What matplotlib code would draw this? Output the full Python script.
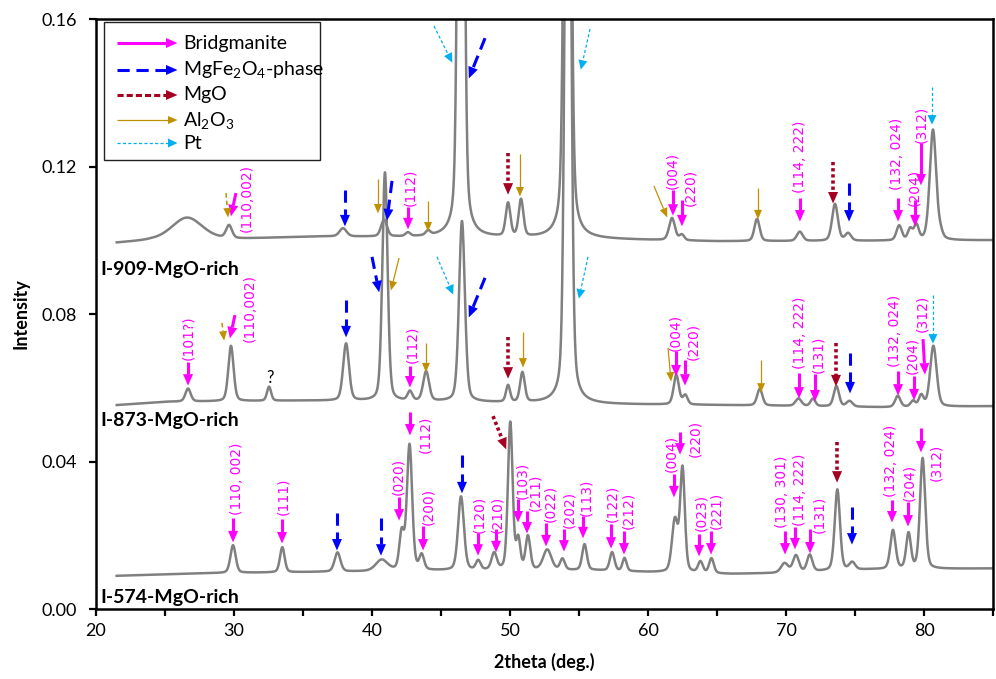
import numpy as np
import matplotlib
matplotlib.use('Agg')
import matplotlib.pyplot as plt
from matplotlib.patches import Polygon, Rectangle
from matplotlib.ticker import MultipleLocator, FormatStrFormatter

plt.rcParams['font.family'] = ['Lato', 'DejaVu Sans']
plt.rcParams['mathtext.default'] = 'regular'

# ---- XRD patterns (2theta in deg.) ----
# background level of each pattern
i909_base_x = [21.5, 24, 30, 36, 45, 56, 65, 75, 85]
i909_base_y = [0.0993, 0.1000, 0.1003, 0.1010, 0.1008, 0.1003, 0.0997, 0.0998, 0.1000]
i873_base_x = [21.5, 25, 35, 45, 57, 65, 72, 77, 85]
i873_base_y = [0.0553, 0.0562, 0.0565, 0.0562, 0.0555, 0.0553, 0.0550, 0.0547, 0.0550]
i574_base_x = [21.5, 28, 35, 45, 56, 60, 66, 69, 76, 85]
i574_base_y = [0.0090, 0.0097, 0.0100, 0.0104, 0.0105, 0.0100, 0.0095, 0.0097, 0.0107, 0.0110]

# peaks: position, height above background, width
i909_pos = [26.6, 29.64, 37.9, 40.87, 42.6, 44.06, 46.45, 49.86, 50.8, 54.17, 61.74,
            62.45, 67.9, 71.0, 73.55, 74.5, 78.2, 79.0, 79.45, 80.65, 81.2]
i909_amp = [0.0060, 0.0035, 0.0022, 0.0045, 0.0010, 0.0012, 0.30, 0.0090, 0.0100, 0.30, 0.0060,
            0.0015, 0.0060, 0.0025, 0.0100, 0.0020, 0.0040, 0.0030, 0.0040, 0.0300, 0.0015]
i909_fwhm = [2.6, 0.5, 0.6, 0.5, 0.4, 0.4, 0.42, 0.4, 0.4, 0.45, 0.5,
             0.4, 0.45, 0.5, 0.5, 0.5, 0.45, 0.4, 0.4, 0.55, 0.4]

i873_pos = [26.67, 29.78, 32.54, 38.12, 40.94, 42.75, 43.92, 46.52, 49.86, 50.9, 54.2,
            62.05, 62.7, 68.1, 70.9, 71.95, 73.65, 74.6, 78.1, 79.2, 79.8, 80.68]
i873_amp = [0.0035, 0.0150, 0.0038, 0.0155, 0.0620, 0.0025, 0.0080, 0.0490, 0.0045, 0.0080, 0.25,
            0.0080, 0.0025, 0.0045, 0.0020, 0.0020, 0.0055, 0.0015, 0.0030, 0.0015, 0.0030, 0.0165]
i873_fwhm = [0.45, 0.45, 0.35, 0.5, 0.45, 0.4, 0.5, 0.5, 0.35, 0.4, 0.45,
             0.45, 0.4, 0.45, 0.5, 0.4, 0.45, 0.5, 0.45, 0.4, 0.4, 0.55]

i574_pos = [29.93, 33.5, 37.5, 40.7, 42.15, 42.72, 43.6, 46.45, 47.7, 48.85, 50.02, 50.6,
            51.3, 52.7, 53.8, 55.4, 57.4, 58.3, 61.95, 62.5, 63.8, 64.6, 69.9, 70.72,
            71.72, 73.72, 74.8, 77.75, 78.88, 79.9]
i574_amp = [0.0075, 0.0068, 0.0052, 0.0030, 0.0100, 0.0340, 0.0040, 0.0200, 0.0025, 0.0045, 0.0400, 0.0080,
            0.0090, 0.0055, 0.0030, 0.0070, 0.0050, 0.0035, 0.0140, 0.0280, 0.0030, 0.0040, 0.0025, 0.0045,
            0.0045, 0.0220, 0.0020, 0.0105, 0.0095, 0.0300]
i574_fwhm = [0.45, 0.4, 0.5, 1.0, 0.4, 0.45, 0.4, 0.5, 0.4, 0.45, 0.4, 0.35,
             0.4, 0.7, 0.4, 0.4, 0.4, 0.35, 0.5, 0.4, 0.4, 0.4, 0.6, 0.5,
             0.45, 0.45, 0.5, 0.45, 0.4, 0.45]

sample_names = ['I-909-MgO-rich', 'I-873-MgO-rich', 'I-574-MgO-rich']

# ---- phase markers: (tail x, tail y, tip x, tip y) ----
bridg_arrows = [
    # I-909
    (30.14, 0.1128, 29.78, 0.1066), (42.61, 0.1090, 42.61, 0.1031), (61.81, 0.1136, 61.81, 0.1068),
    (62.46, 0.1109, 62.46, 0.1039), (71.01, 0.1115, 71.01, 0.1052), (78.12, 0.1115, 78.12, 0.1052),
    (79.35, 0.1109, 79.35, 0.1039), (79.78, 0.1264, 79.78, 0.1150),
    # I-873
    (26.67, 0.0670, 26.67, 0.0607), (30.07, 0.0797, 29.71, 0.0735), (42.75, 0.0659, 42.75, 0.0602),
    (62.03, 0.0700, 62.03, 0.0632), (62.68, 0.0675, 62.68, 0.0607), (70.94, 0.0640, 70.94, 0.0572),
    (72.10, 0.0637, 72.10, 0.0564), (78.12, 0.0645, 78.12, 0.0580), (79.28, 0.0632, 79.28, 0.0567),
    (79.93, 0.0732, 80.07, 0.0637),
    # I-574
    (29.93, 0.0247, 29.93, 0.0182), (33.48, 0.0244, 33.48, 0.0179), (41.96, 0.0304, 41.96, 0.0241),
    (42.75, 0.0534, 42.75, 0.0472), (43.70, 0.0225, 43.70, 0.0160), (47.68, 0.0206, 47.68, 0.0146),
    (48.99, 0.0217, 48.99, 0.0155), (50.58, 0.0298, 50.58, 0.0236), (51.23, 0.0266, 51.23, 0.0206),
    (52.61, 0.0233, 52.61, 0.0171), (53.91, 0.0217, 53.91, 0.0157), (55.29, 0.0252, 55.29, 0.0193),
    (57.32, 0.0231, 57.32, 0.0165), (58.26, 0.0212, 58.26, 0.0149), (61.88, 0.0366, 61.88, 0.0304),
    (62.32, 0.0480, 62.32, 0.0420), (63.70, 0.0203, 63.70, 0.0144), (64.57, 0.0212, 64.57, 0.0149),
    (69.93, 0.0212, 69.93, 0.0149), (70.65, 0.0222, 70.65, 0.0163), (71.74, 0.0217, 71.74, 0.0152),
    (77.68, 0.0296, 77.68, 0.0236), (78.84, 0.0290, 78.84, 0.0225), (79.78, 0.0491, 79.78, 0.0426),
]
bridg_labels = [
    ('(110,002)', 30.94, 0.1022), ('(112)', 42.75, 0.1093), ('(004)', 61.74, 0.1139),
    ('(220)', 63.04, 0.1093), ('(114, 222)', 71.01, 0.1128), ('(132, 024)', 78.04, 0.1136),
    ('(204)', 79.28, 0.1093), ('(312)', 79.78, 0.1264),
    ('(101?)', 26.67, 0.0675), ('(110,002)', 31.16, 0.0724), ('(112)', 42.9, 0.0667),
    ('(004)', 61.96, 0.0700), ('(220)', 63.26, 0.0675), ('(114, 222)', 71.01, 0.0651),
    ('(131)', 72.32, 0.0640), ('(132, 024)', 77.9, 0.0656), ('(204)', 79.13, 0.0637),
    ('(312)', 79.86, 0.0751),
    ('(110, 002)', 30.22, 0.0255), ('(111)', 33.55, 0.0255), ('(020)', 41.88, 0.0309),
    ('(112)', 43.84, 0.0423), ('(200)', 44.06, 0.0228), ('(120)', 47.75, 0.0206),
    ('(210)', 49.06, 0.0206), ('(103)', 50.87, 0.0298), ('(211)', 51.81, 0.0266),
    ('(022)', 52.9, 0.0236), ('(202)', 54.28, 0.0220), ('(113)', 55.51, 0.0252),
    ('(122)', 57.39, 0.0236), ('(212)', 58.55, 0.0217), ('(004)', 61.67, 0.0372),
    ('(220)', 63.41, 0.0412), ('(023)', 63.84, 0.0212), ('(221)', 64.93, 0.0217),
    ('(130, 301)', 69.71, 0.0220), ('(114, 222)', 71.01, 0.0225), ('(131)', 72.39, 0.0206),
    ('(132, 024)', 77.61, 0.0304), ('(204)', 78.91, 0.0293), ('(312)', 80.87, 0.0347),
]
mgfe_arrows = [
    (38.04, 0.1136, 38.04, 0.1039), (41.45, 0.1161, 41.09, 0.1055), (48.19, 0.1548, 47.03, 0.1440),
    (74.57, 0.1155, 74.57, 0.1052),
    (38.12, 0.0838, 38.12, 0.0738), (40.0, 0.0955, 40.51, 0.0860), (48.19, 0.0898, 47.03, 0.0792),
    (74.64, 0.0694, 74.64, 0.0586),
    (37.46, 0.0260, 37.46, 0.0160), (40.65, 0.0247, 40.65, 0.0146), (46.52, 0.0418, 46.52, 0.0315),
    (74.78, 0.0277, 74.78, 0.0176),
]
mgo_arrows = [
    (49.86, 0.1237, 49.86, 0.1125), (73.41, 0.1212, 73.41, 0.1101),
    (49.86, 0.0738, 49.86, 0.0626), (73.62, 0.0721, 73.62, 0.0605),
    (48.77, 0.0523, 49.71, 0.0434), (73.70, 0.0453, 73.70, 0.0344),
]
al2o3_arrows = [
    (40.43, 0.1166, 40.43, 0.1074), (44.06, 0.1106, 44.06, 0.1025), (50.72, 0.1234, 50.72, 0.1120),
    (60.43, 0.1147, 61.38, 0.1063), (67.97, 0.1142, 67.97, 0.1058),
    (41.96, 0.0952, 41.38, 0.0865), (43.91, 0.0721, 43.91, 0.0643), (50.94, 0.0751, 50.94, 0.0656),
    (61.45, 0.0708, 61.67, 0.0618), (68.19, 0.0675, 68.19, 0.0588),
]
al2o3_tentative = [(29.42, 0.1128, 29.57, 0.1063), (29.13, 0.0776, 29.28, 0.0729)]
pt_arrows = [
    (44.49, 0.1581, 45.80, 0.1483), (55.80, 0.1573, 55.14, 0.1464), (80.58, 0.1416, 80.58, 0.1315),
    (44.71, 0.0955, 45.87, 0.0854), (55.65, 0.0955, 55.00, 0.0843), (80.65, 0.0852, 80.65, 0.0721),
]

# style: colour, line width, dash pattern, head length px, head width px
STYLES = {
    'bridg': ('#FF00FF', 2.2, None, 11, 10),
    'mgfe': ('#0000FF', 2.2, (4.0, 2.2), 11, 10),
    'mgo': ('#A50021', 2.6, (0.9, 0.8), 11, 10),
    'mgo_leg': ('#A50021', 2.2, (2.0, 1.0), 11, 10),
    'al2o3': ('#BF9000', 0.9, None, 9, 8),
    'al2o3_t': ('#BF9000', 1.1, (3.0, 2.0), 9, 8),
    'pt': ('#00B0F0', 0.9, (2.5, 1.8), 9, 9),
}


def pattern(x, base_x, base_y, pos, amp, fwhm, eta=0.3):
    y = np.interp(x, base_x, base_y)
    for p, a, w in zip(pos, amp, fwhm):
        g = np.exp(-4 * np.log(2) * ((x - p) / w) ** 2)
        l = 1.0 / (1.0 + (2 * (x - p) / w) ** 2)
        y = y + a * (eta * l + (1 - eta) * g)
    return y


def draw_arrow(ax, x0, y0, x1, y1, style, trans=None, z=4):
    color, lw, dashes, hl, hw = STYLES[style]
    if trans is None:
        trans = ax.transData
    inv = trans.inverted()
    p0 = trans.transform((x0, y0))
    p1 = trans.transform((x1, y1))
    d = p1 - p0
    u = d / np.hypot(*d)
    n = np.array([-u[1], u[0]])
    base = p1 - u * hl
    b = inv.transform(base)
    line, = ax.plot([x0, b[0]], [y0, b[1]], color=color, lw=lw, transform=trans,
                    solid_capstyle='butt', dash_capstyle='butt', zorder=z)
    if dashes:
        line.set_dashes(dashes)
    tri = inv.transform(np.array([p1 + u * 0.5, base + n * hw / 2, base - n * hw / 2]))
    ax.add_patch(Polygon(tri, closed=True, facecolor=color, edgecolor='none',
                         transform=trans, zorder=z))


fig = plt.figure(figsize=(9.96, 6.79), dpi=100)
ax = fig.add_axes([96 / 996, 70 / 679, 897 / 996, 590 / 679])
ax.set_xlim(20, 85)
ax.set_ylim(0, 0.16)

x = np.linspace(21.5, 85, 4000)
for bx, by, p, a, w in [(i909_base_x, i909_base_y, i909_pos, i909_amp, i909_fwhm),
                        (i873_base_x, i873_base_y, i873_pos, i873_amp, i873_fwhm),
                        (i574_base_x, i574_base_y, i574_pos, i574_amp, i574_fwhm)]:
    ax.plot(x, pattern(x, bx, by, p, a, w), color='#808080', lw=1.8, zorder=2)

for x0, y0, x1, y1 in bridg_arrows:
    draw_arrow(ax, x0, y0, x1, y1, 'bridg')
for x0, y0, x1, y1 in mgfe_arrows:
    draw_arrow(ax, x0, y0, x1, y1, 'mgfe')
for x0, y0, x1, y1 in mgo_arrows:
    draw_arrow(ax, x0, y0, x1, y1, 'mgo')
for x0, y0, x1, y1 in al2o3_arrows:
    draw_arrow(ax, x0, y0, x1, y1, 'al2o3')
for x0, y0, x1, y1 in al2o3_tentative:
    draw_arrow(ax, x0, y0, x1, y1, 'al2o3_t')
for x0, y0, x1, y1 in pt_arrows:
    draw_arrow(ax, x0, y0, x1, y1, 'pt')

for txt, lx, ly in bridg_labels:
    ax.text(lx, ly, txt, rotation=90, ha='center', va='bottom', color='#FF00FF',
            fontsize=10, family='DejaVu Sans', zorder=5)
ax.text(32.61, 0.0626, '?', ha='center', va='center', fontsize=12, color='black')

# sample names
for name, yy in zip(sample_names, [0.5746, 0.3203, 0.0200]):
    ax.text(0.005, yy, name, transform=ax.transAxes, fontsize=14, fontweight='bold',
            ha='left', va='center')

# legend box drawn by hand so the entries look like the arrows
ax.add_patch(Rectangle((0.009, 0.761), 0.241, 0.234, transform=ax.transAxes,
                       facecolor='white', edgecolor='#222222', lw=1.0, zorder=6))
legend_rows = [
    ('bridg', 'Bridgmanite'),
    ('mgfe', 'MgFe$_2$O$_4$-phase'),
    ('mgo_leg', 'MgO'),
    ('al2o3', 'Al$_2$O$_3$'),
    ('pt', 'Pt'),
]
for (style, label), ly in zip(legend_rows, [0.9593, 0.9136, 0.8712, 0.8288, 0.7898]):
    draw_arrow(ax, 0.0234, ly, 0.0903, ly, style, trans=ax.transAxes, z=7)
    ax.text(0.097, ly, label, transform=ax.transAxes, fontsize=14, va='center',
            ha='left', zorder=7)

ax.xaxis.set_major_locator(MultipleLocator(10))
ax.xaxis.set_minor_locator(MultipleLocator(5))
ax.yaxis.set_major_locator(MultipleLocator(0.04))
ax.yaxis.set_major_formatter(FormatStrFormatter('%.2f'))
ax.tick_params(which='both', direction='out', length=5, width=1.6, labelsize=13)
ax.tick_params(axis='y', pad=9)
ax.tick_params(axis='x', pad=5)
for sp in ax.spines.values():
    sp.set_linewidth(1.8)
ax.set_xlabel('2theta (deg.)', fontsize=13, fontweight='bold', labelpad=10)
ax.set_ylabel('Intensity', fontsize=13, fontweight='bold', labelpad=8)

fig.savefig('out.png', dpi=100)
